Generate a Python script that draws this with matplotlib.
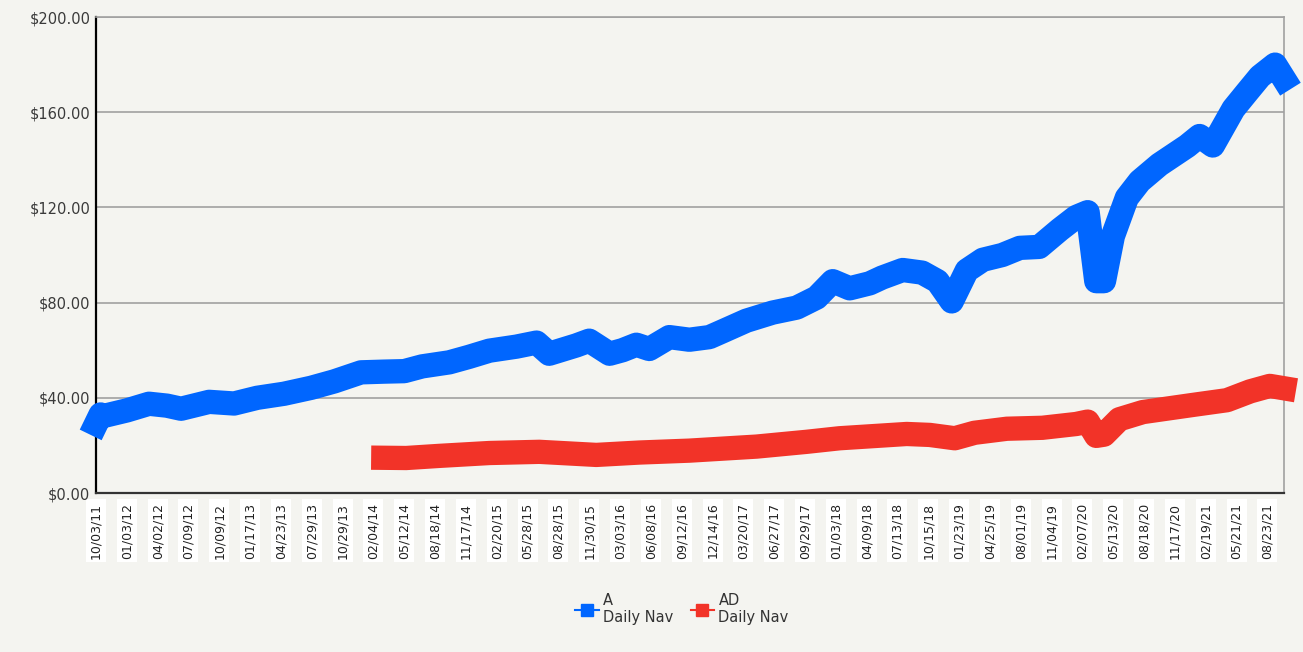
import matplotlib.pyplot as plt
from matplotlib.lines import Line2D

# x tick labels (one every ~63 trading days)
tick_labels = ["10/03/11", "01/03/12", "04/02/12", "07/09/12", "10/09/12", "01/17/13",
               "04/23/13", "07/29/13", "10/29/13", "02/04/14", "05/12/14", "08/18/14",
               "11/17/14", "02/20/15", "05/28/15", "08/28/15", "11/30/15", "03/03/16",
               "06/08/16", "09/12/16", "12/14/16", "03/20/17", "06/27/17", "09/29/17",
               "01/03/18", "04/09/18", "07/13/18", "10/15/18", "01/23/19", "04/25/19",
               "08/01/19", "11/04/19", "02/07/20", "05/13/20", "08/18/20", "11/17/20",
               "02/19/21", "05/21/21", "08/23/21"]

# series A, position in tick periods and daily nav
a_pos = [0, 0.15, 0.26, 1.0, 1.72, 2.3, 2.76, 3.67, 4.48, 5.23, 6.1, 6.98, 7.73, 8.6,
         9.35, 10.0, 10.58, 11.46, 12.1, 12.76, 13.64, 14.29, 14.7, 15.58, 16.0, 16.66,
         17.08, 17.53, 17.95, 18.6, 19.25, 19.9, 20.32, 21.1, 21.95, 22.73, 23.38, 23.9,
         24.45, 25.1, 25.5, 26.17, 26.8, 27.3, 27.76, 28.25, 28.77, 29.4, 29.97, 30.6,
         31.27, 31.8, 32.17, 32.45, 32.7, 32.99, 33.44, 33.86, 34.5, 35.4, 35.8, 36.23,
         36.9, 37.34, 37.76, 38.25, 38.54]
a_nav = [29, 33, 32.4, 34.7, 37.5, 36.7, 35.4, 38.3, 37.6, 40, 41.7, 44.2, 46.9, 50.7,
         51, 51.2, 53.2, 54.9, 57.2, 59.8, 61.5, 63.2, 58.5, 62, 64, 58.5, 60, 62.3, 60.5,
         65.5, 64.4, 65.5, 67.9, 72.4, 75.8, 77.9, 82.1, 89, 86, 88.1, 90.5, 93.7, 92.6,
         89, 80.5, 93.5, 98, 100, 103, 103.4, 110.7, 116, 118, 89, 89, 108, 124, 131, 138,
         145.8, 150, 146, 161.4, 168.4, 175, 180, 174]

# series AD
ad_pos = [9.32, 10.06, 11.14, 12.76, 14.38, 16.23, 17.63, 19.25, 21.43, 23.05, 24.12,
          26.3, 27.05, 27.86, 28.5, 29.55, 30.7, 31.8, 32.17, 32.45, 32.7, 33.2, 33.96,
          35.58, 36.69, 37.44, 38.08, 38.54]
ad_nav = [14.8, 14.7, 15.6, 16.8, 17.3, 16, 17, 17.8, 19.5, 21.5, 23, 24.8, 24.4, 23,
          25.3, 27, 27.4, 29, 30, 24, 24.5, 31, 34, 37, 39, 42.7, 45, 44]

bg = "#f4f4f0"
blue = "#0066ff"
red = "#f23328"

fig = plt.figure(figsize=(13.03, 6.52), dpi=100, facecolor=bg)
ax = fig.add_axes([96 / 1303, 1 - 493 / 652, (1284 - 96) / 1303, (493 - 17) / 652])
ax.set_facecolor(bg)

for pos, nav, col in [(a_pos, a_nav, blue), (ad_pos, ad_nav, red)]:
    ax.plot(pos, nav, color=col, lw=17.5, solid_capstyle="projecting",
            solid_joinstyle="round", clip_on=False, zorder=3)

ax.set_xlim(0, 38.54)
ax.set_ylim(0, 200)
ax.set_yticks(range(0, 201, 40))
ax.set_yticklabels([f"${v:.2f}" for v in range(0, 201, 40)], fontsize=10.5, color="#3a3a3a")
ax.set_xticks(range(len(tick_labels)))
ax.set_xticklabels(tick_labels, rotation=90, fontsize=9, color="#222222")
for lab in ax.get_xticklabels():
    lab.set_bbox(dict(facecolor="white", edgecolor="none", pad=2.5))
ax.tick_params(length=0, pad=4)
ax.tick_params(axis="x", pad=7)

ax.grid(axis="y", color="#a0a0a0", lw=1.2)
ax.set_axisbelow(True)
for s in ["top", "right"]:
    ax.spines[s].set_color("#a0a0a0")
    ax.spines[s].set_linewidth(1.2)
ax.spines["left"].set_color("black")
ax.spines["left"].set_linewidth(1.6)
ax.spines["bottom"].set_color("#333333")
ax.spines["bottom"].set_linewidth(1.6)

handles = [Line2D([], [], color=blue, lw=1.5, marker="s", markersize=8),
           Line2D([], [], color=red, lw=1.5, marker="s", markersize=8)]
fig.legend(handles, ["A\nDaily Nav", "AD\nDaily Nav"], loc="center",
           bbox_to_anchor=(682 / 1303, 1 - 609 / 652), ncol=2, frameon=False,
           fontsize=10.5, handlelength=1.6, handletextpad=0.3, columnspacing=1.2,
           labelcolor="#333333")

fig.savefig("out.png", dpi=100, facecolor=bg)
